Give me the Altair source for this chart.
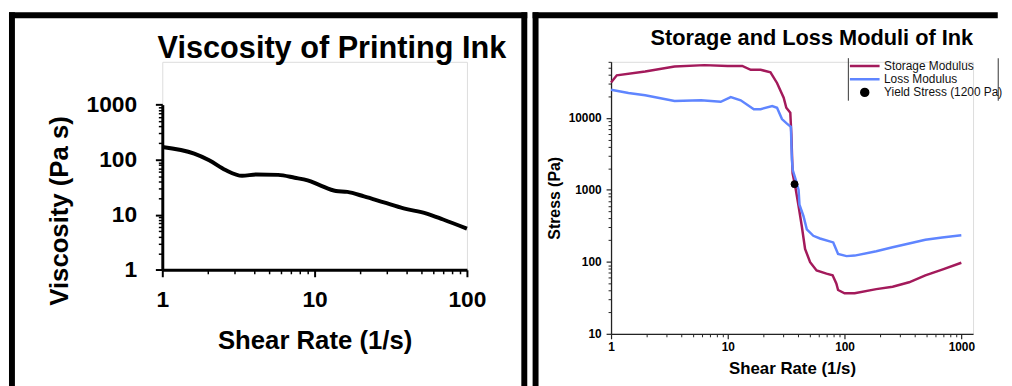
import altair as alt
import pandas as pd

FONT = "Liberation Sans, Arial, sans-serif"

# ---------------- data: viscosity (left panel) ----------------
visc_rate = [1, 1.62, 2.03, 2.6, 3.34, 4.17, 5.76, 7.4, 9.0, 10.7, 13.8, 16.4,
             21.1, 28.5, 38.4, 54.4, 69.8, 100]
visc_value = [170, 129, 98, 65, 51, 54, 53, 47, 42, 35, 27, 26,
              21.6, 16.8, 13.1, 10.5, 8.2, 5.6]

# ---------------- data: moduli (right panel) ----------------
storage_rate = [1, 1.12, 1.96, 3.5, 6.3, 9.96, 13.3, 15.7, 19.1, 23.2, 26.4, 30.1,
                31.7, 34.3, 35, 35.9, 37.8, 40.4, 43, 45.9, 50.7, 57.6, 70, 79,
                85, 88, 100, 122, 187, 258, 357, 492, 685, 1000]
storage_value = [31000, 39000, 44000, 51500, 54000, 52500, 52500, 46500, 46500, 43000,
                 30500, 19000, 13800, 11800, 6000, 1700, 1120, 590, 315, 151, 99, 76,
                 68.5, 65, 50, 40.6, 36.5, 36.5, 41.8, 45, 52, 65, 78, 97]
loss_rate = [1, 1.41, 1.96, 3.5, 5.9, 8.7, 10.6, 12.9, 16.7, 19.1, 24, 26.4, 29.1,
             32.1, 34.7, 35.4, 36, 38.6, 40.4, 41.1, 44.5, 47.5, 54, 61.6, 80, 88,
             104, 122, 187, 258, 357, 492, 685, 1000]
loss_value = [24600, 22200, 20600, 17100, 17500, 16700, 19400, 17500, 13200, 13200,
              14600, 13800, 9600, 8300, 7500, 2600, 1880, 1300, 1000, 620, 430, 282,
              230, 211, 186, 129, 120, 122, 140, 159, 180, 202, 218, 234]
yield_rate = [37.3]
yield_stress = [1200]

series_names = ["Storage Modulus", "Loss Modulus", "Yield Stress (1200 Pa)"]
series_colors = ["#A31A5B", "#5F85FF", "#000000"]

left_title_text = "Viscosity of Printing Ink"
right_title_text = "Storage and Loss Moduli of Ink"
x_title = "Shear Rate (1/s)"
left_y_title = "Viscosity (Pa s)"
right_y_title = "Stress (Pa)"

left_x_major = [1, 10, 100]
left_y_major = [1, 10, 100, 1000]
right_x_major = [1, 10, 100, 1000]
right_y_major = [10, 100, 1000, 10000]


def minor_ticks(majors, top):
    out = []
    for m in majors:
        for k in range(2, 10):
            if m * k <= top:
                out.append(m * k)
    return out


one = pd.DataFrame({"k": [0]})


def rule(x=None, x2=None, y=None, y2=None, width=6, color="black", cap="square"):
    enc = {"x": alt.value(x), "y": alt.value(y)}
    if x2 is not None:
        enc["x2"] = alt.value(x2)
    if y2 is not None:
        enc["y2"] = alt.value(y2)
    return alt.Chart(one).mark_rule(color=color, strokeWidth=width, strokeCap=cap).encode(**enc)


# ================= LEFT PANEL =================
# hconcat aligns the panels' plot origins, so the left y-scale uses an explicit
# pixel range inside a taller view that starts at the same height as the right one.
LW, LH = 308, 210.3
L_TOP = 43.3
visc_df = pd.DataFrame({"rate": visc_rate, "visc": visc_value})
lxs = alt.Scale(type="log", domain=[1, 100])
lys = alt.Scale(type="log", domain=[1, 1000], range=[LH, L_TOP])

left_axis_common = dict(labelFont=FONT, labelFontSize=23, labelFontWeight="bold",
                        labelColor="black", labelFlush=False, labelOverlap=False,
                        format="d", tickColor="black", tickWidth=2, tickSize=7,
                        domainColor="black", domainWidth=3, grid=False,
                        titleFont=FONT, titleFontSize=26, titleFontWeight="bold",
                        titleColor="black", titleBaseline="middle", titleAlign="center")

left_line = alt.Chart(visc_df).mark_line(color="black", strokeWidth=4, interpolate="monotone").encode(
    x=alt.X("rate:Q", scale=lxs, title=x_title,
            axis=alt.Axis(orient="bottom", values=left_x_major, labelPadding=12,
                          titleX=LW / 2, titleY=72, **left_axis_common)),
    y=alt.Y("visc:Q", scale=lys, title=left_y_title,
            axis=alt.Axis(orient="left", values=left_y_major, labelPadding=19,
                          titleX=-104, titleY=150.3, titleAngle=270, **left_axis_common)),
)
left_minor = alt.Chart(visc_df).mark_line(opacity=0).encode(
    x=alt.X("rate:Q", scale=lxs, title=None,
            axis=alt.Axis(orient="bottom", values=minor_ticks(left_x_major, 100), labels=False,
                          domain=False, tickSize=4, tickWidth=1.5, tickColor="black", grid=False)),
    y=alt.Y("visc:Q", scale=lys, title=None,
            axis=alt.Axis(orient="left", values=minor_ticks(left_y_major, 1000), labels=False,
                          domain=False, tickSize=4, tickWidth=1.5, tickColor="black", grid=False)),
)
left_title = alt.Chart(pd.DataFrame({"t": [left_title_text]})).mark_text(
    font=FONT, fontSize=31, fontWeight="bold", align="center", baseline="alphabetic", color="black"
).encode(text="t:N", x=alt.value(171.5), y=alt.value(-4.2))

left_panel = alt.layer(
    rule(x=-152, y=-47, y2=326),
    rule(x=-152, x2=366, y=-47),
    rule(x=366, y=-47, y2=326),
    left_title,
    left_line,
    left_minor,
).resolve_axis(x="independent", y="independent").properties(width=LW, height=LH)

# ================= RIGHT PANEL =================
RW, RH = 366, 275
mod_df = pd.DataFrame({
    "rate": storage_rate + loss_rate,
    "stress": storage_value + loss_value,
    "series": [series_names[0]] * len(storage_rate) + [series_names[1]] * len(loss_rate),
})
yield_df = pd.DataFrame({"rate": yield_rate, "stress": yield_stress, "series": [series_names[2]]})

rxs = alt.Scale(type="log", domain=[1, 1260])
rys = alt.Scale(type="log", domain=[10, 60000])

right_axis_common = dict(labelFont=FONT, labelFontSize=12, labelFontWeight="bold",
                         labelColor="black", labelFlush=False, labelOverlap=False,
                         format="d", tickColor="#222", tickWidth=1.2, tickSize=5,
                         domainColor="#222", domainWidth=1.3, grid=False,
                         titleFont=FONT, titleFontWeight="bold",
                         titleColor="black", titleBaseline="middle", titleAlign="center")

legend = alt.Legend(title=None, orient="none", legendX=240, legendY=-1.7, padding=0,
                    labelFont=FONT, labelFontSize=12, labelColor="#111", labelOffset=3,
                    symbolStrokeWidth=2.5, rowPadding=1.3, clipHeight=12)
color_scale = alt.Scale(domain=series_names, range=series_colors)

lines = alt.Chart(mod_df).mark_line(strokeWidth=2.5).encode(
    x=alt.X("rate:Q", scale=rxs, title=x_title,
            axis=alt.Axis(orient="bottom", values=right_x_major, labelPadding=3,
                          titleFontSize=17, titleX=RW / 2, titleY=35, **right_axis_common)),
    y=alt.Y("stress:Q", scale=rys, title=right_y_title,
            axis=alt.Axis(orient="left", values=right_y_major, labelPadding=5,
                          titleFontSize=16, titleX=-57, titleY=RH / 2, titleAngle=270,
                          **right_axis_common)),
    color=alt.Color("series:N", scale=color_scale, legend=legend),
)
point = alt.Chart(yield_df).mark_point(filled=False, strokeWidth=1, opacity=1).encode(
    x=alt.X("rate:Q", scale=rxs, axis=None),
    y=alt.Y("stress:Q", scale=rys, axis=None),
    color=alt.Color("series:N", scale=color_scale, legend=legend),
    fill=alt.Fill("series:N", scale=alt.Scale(domain=series_names,
                                               range=["transparent", "transparent", "black"]),
                  legend=legend),
    shape=alt.Shape("series:N", scale=alt.Scale(domain=series_names,
                                                 range=["stroke", "stroke", "circle"]),
                    legend=legend),
    size=alt.Size("series:N", scale=alt.Scale(type="ordinal", domain=series_names,
                                               range=[900, 900, 50]),
                  legend=legend),
)
right_minor = alt.Chart(mod_df).mark_line(opacity=0).encode(
    x=alt.X("rate:Q", scale=rxs, title=None,
            axis=alt.Axis(orient="bottom", values=minor_ticks(right_x_major, 1000), labels=False,
                          domain=False, tickSize=3, tickWidth=1, tickColor="#222", grid=False)),
    y=alt.Y("stress:Q", scale=rys, title=None,
            axis=alt.Axis(orient="left", values=minor_ticks(right_y_major, 60000), labels=False,
                          domain=False, tickSize=3, tickWidth=1, tickColor="#222", grid=False)),
    detail="series:N",
)
right_title = alt.Chart(pd.DataFrame({"t": [right_title_text]})).mark_text(
    font=FONT, fontSize=22, fontWeight="bold", align="center", baseline="alphabetic", color="black"
).encode(text="t:N", x=alt.value(203), y=alt.value(-17.4))

right_panel = alt.layer(
    rule(x=-76.3, y=-47, y2=326),
    rule(x=-76.3, x2=388, y=-47),
    rule(x=240, y=-3.7, y2=39.3, width=1.2, color="#555", cap="butt"),
    rule(x=391.5, y=-3.7, y2=39.3, width=1.2, color="#555", cap="butt"),
    right_title,
    lines,
    point,
    right_minor,
).resolve_axis(x="independent", y="independent").properties(width=RW, height=RH)

chart = alt.hconcat(left_panel, right_panel, spacing=0.7).resolve_scale(
    color="independent", fill="independent", shape="independent", size="independent"
).properties(
    padding={"left": -1, "top": 0.3, "right": 0, "bottom": 0}
).configure_view(stroke="transparent", strokeWidth=0).configure(background="white")

chart.save("out.html", embed_options={"renderer": "svg", "actions": False})
